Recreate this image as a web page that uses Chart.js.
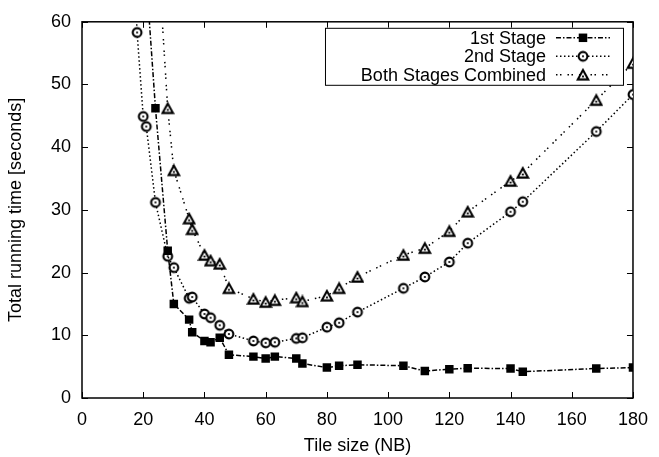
<!DOCTYPE html>
<html lang="en">
<head>
<meta charset="UTF-8" />
<title>Running time vs tile size</title>
<script src="https://cdn.jsdelivr.net/npm/chart.js"></script>
<style>
  body { margin: 0; background: #fff; }
  #wrap { width: 659px; height: 457px; }
</style>
</head>
<body>
<div id="wrap"><canvas id="chart"></canvas></div>
<script>
  // tile sizes (NB) and running times in seconds, null = not measured
  const tileSizes = [16, 18, 20, 21, 24, 28, 30, 35, 36, 40, 42, 45, 48, 56, 60, 63, 70, 72, 80, 84, 90, 105, 112, 120, 126, 140, 144, 168, 180];
  const stage1 = [null, null, null, 67, 46.2, 23.5, 15.0, 12.5, 10.5, 9.1, 8.9, 9.6, 6.9, 6.6, 6.3, 6.6, 6.3, 5.5, 4.85, 5.15, 5.3, 5.15, 4.3, 4.6, 4.75, 4.7, 4.2, 4.7, 4.85];
  const stage2 = [80, 58.3, 44.9, 43.3, 31.2, 22.6, 20.8, 15.9, 16.1, 13.4, 12.8, 11.6, 10.2, 9.1, 8.8, 8.9, 9.5, 9.6, 11.3, 12.0, 13.7, 17.5, 19.3, 21.7, 24.7, 29.7, 31.3, 42.5, 48.4];
  const combined = [null, null, null, null, 77.4, 46.2, 36.3, 28.6, 26.9, 22.8, 21.9, 21.4, 17.5, 15.8, 15.3, 15.6, 16.0, 15.4, 16.3, 17.5, 19.3, 22.8, 23.9, 26.6, 29.7, 34.6, 35.9, 47.5, 53.4];
  const seriesNames = ["1st Stage", "2nd Stage", "Both Stages Combined"];
  const xTicks = [0, 20, 40, 60, 80, 100, 120, 140, 160, 180];
  const yTicks = [0, 10, 20, 30, 40, 50, 60];

  Chart.defaults.font.family = '"Liberation Sans", Arial, sans-serif';
  Chart.defaults.font.size = 18;
  Chart.defaults.color = "#000";

  function toPoints(values) {
    return tileSizes
      .map((x, i) => ({ x: x, y: values[i] }))
      .filter(p => p.y !== null);
  }

  // open markers with a dot in the middle, like the gnuplot ones
  function makeMarker(kind) {
    const c = document.createElement("canvas");
    c.width = 14; c.height = 14;
    const g = c.getContext("2d");
    g.strokeStyle = "#000";
    g.fillStyle = "#fff";
    g.lineWidth = 2.1;
    g.lineJoin = "miter";
    g.beginPath();
    if (kind === "circle") {
      g.arc(7, 7, 4.4, 0, Math.PI * 2);
    } else {
      g.moveTo(7, 2.2);
      g.lineTo(12.2, 11.6);
      g.lineTo(1.8, 11.6);
      g.closePath();
    }
    g.fill();
    g.stroke();
    g.fillStyle = "#000";
    g.beginPath();
    g.arc(7, kind === "circle" ? 7 : 8.6, 1.1, 0, Math.PI * 2);
    g.fill();
    return c;
  }

  const circleMarker = makeMarker("circle");
  const triangleMarker = makeMarker("triangle");

  const styles = [
    { dash: [5, 2, 1.5, 2], point: "rect", radius: 6 },
    { dash: [1.5, 2.5], point: circleMarker, radius: 5 },
    { dash: [1.5, 2.5, 1.5, 6], point: triangleMarker, radius: 5 }
  ];

  // border with inward ticks on all four sides
  const framePlugin = {
    id: "frame",
    beforeDatasetsDraw(chart) {
      const { ctx, chartArea: a, scales } = chart;
      ctx.save();
      ctx.strokeStyle = "#000";
      ctx.lineWidth = 1;
      ctx.beginPath();
      xTicks.forEach(v => {
        const px = Math.round(scales.x.getPixelForValue(v)) + 0.5;
        ctx.moveTo(px, a.bottom); ctx.lineTo(px, a.bottom - 6);
        ctx.moveTo(px, a.top); ctx.lineTo(px, a.top + 6);
      });
      yTicks.forEach(v => {
        const py = Math.round(scales.y.getPixelForValue(v)) + 0.5;
        ctx.moveTo(a.left, py); ctx.lineTo(a.left + 6, py);
        ctx.moveTo(a.right, py); ctx.lineTo(a.right - 6, py);
      });
      ctx.stroke();
      ctx.lineWidth = 1.5;
      ctx.strokeRect(a.left, a.top, a.right - a.left, a.bottom - a.top);
      ctx.restore();
    }
  };

  // gnuplot style key: right aligned text, then the line sample
  const keyPlugin = {
    id: "key",
    afterDatasetsDraw(chart) {
      const { ctx, chartArea: a } = chart;
      const right = a.right - 10, left = a.right - 308;
      const top = a.top + 6, bottom = a.top + 63;
      ctx.save();
      ctx.fillStyle = "#fff";
      ctx.fillRect(left, top, right - left, bottom - top);
      ctx.strokeStyle = "#000";
      ctx.lineWidth = 1;
      ctx.strokeRect(left + 0.5, top + 0.5, right - left, bottom - top);
      ctx.font = '18px "Liberation Sans", Arial, sans-serif';
      ctx.textAlign = "right";
      ctx.textBaseline = "middle";
      seriesNames.forEach((name, i) => {
        const y = top + 10 + i * 18.5;
        ctx.fillStyle = "#000";
        ctx.fillText(name, right - 77, y + 1);
        ctx.setLineDash(styles[i].dash);
        ctx.lineWidth = 1.5;
        ctx.beginPath();
        ctx.moveTo(right - 67, y);
        ctx.lineTo(right - 13, y);
        ctx.stroke();
        ctx.setLineDash([]);
        const mx = right - 40;
        if (styles[i].point === "rect") {
          ctx.fillRect(mx - 4.25, y - 4.25, 8.5, 8.5);
        } else {
          const m = styles[i].point;
          ctx.drawImage(m, mx - m.width / 2, y - m.height / 2);
        }
      });
      ctx.restore();
    }
  };

  const datasets = [stage1, stage2, combined].map((values, i) => ({
    label: seriesNames[i],
    data: toPoints(values),
    showLine: true,
    borderColor: "#000",
    backgroundColor: "#000",
    borderWidth: 1.5,
    borderDash: styles[i].dash,
    pointStyle: styles[i].point,
    pointRadius: styles[i].radius,
    pointHoverRadius: styles[i].radius,
    pointBorderWidth: 0,
    tension: 0
  }));

  new Chart(document.getElementById("chart"), {
    type: "scatter",
    data: { datasets },
    plugins: [framePlugin, keyPlugin],
    options: {
      responsive: true,
      maintainAspectRatio: false,
      animation: false,
      events: [],
      layout: { padding: { left: 0, right: 19, top: 10, bottom: 0 } },
      plugins: {
        legend: { display: false },
        tooltip: { enabled: false }
      },
      scales: {
        x: {
          type: "linear",
          min: 0,
          max: 180,
          afterBuildTicks: s => { s.ticks = xTicks.map(v => ({ value: v })); },
          afterFit: s => { s.height = 59; },
          grid: { display: false, drawTicks: false },
          border: { display: false },
          ticks: { padding: 11, maxRotation: 0, autoSkip: false },
          title: { display: true, text: "Tile size (NB)", padding: { top: 0, bottom: 0 } }
        },
        y: {
          type: "linear",
          min: 0,
          max: 60,
          afterBuildTicks: s => { s.ticks = yTicks.map(v => ({ value: v })); },
          afterFit: s => { s.width = 82; },
          grid: { display: false, drawTicks: false },
          border: { display: false },
          ticks: { padding: 11 },
          title: { display: true, text: "Total running time [seconds]", padding: { top: 5, bottom: 0 } }
        }
      }
    }
  });
</script>
</body>
</html>
